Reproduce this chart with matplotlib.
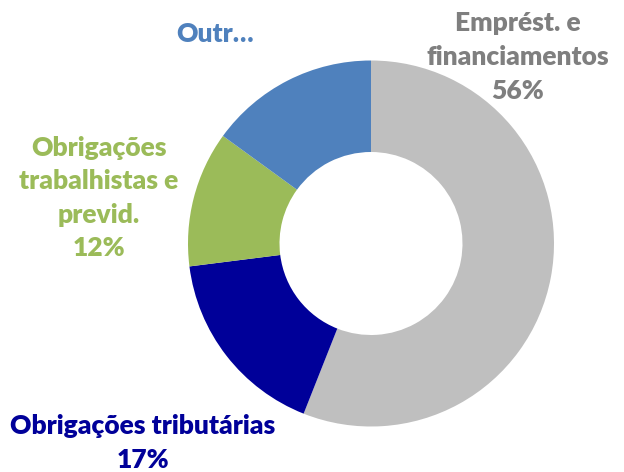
import matplotlib
matplotlib.use("Agg")
import matplotlib.pyplot as plt

categories = ["Emprést. e\nfinanciamentos", "Obrigações tributárias", "Obrigações\ntrabalhistas e\nprevid.", "Outr…"]
values = [56, 17, 12, 15]
pct_labels = ["56%", "17%", "12%", ""]
colors = ["#BFBFBF", "#000099", "#9BBB59", "#4F81BD"]
text_colors = ["#7F7F7F", "#000099", "#9BBB59", "#4F81BD"]

W, H = 624, 472
fig = plt.figure(figsize=(W / 100, H / 100), dpi=100)
ax = fig.add_axes([0, 0, 1, 1])

cx, cy, R = 371, H - 243.5, 183
ax.pie(values, colors=colors, startangle=90, counterclock=False,
       center=(cx, cy), radius=R, frame=True,
       wedgeprops=dict(width=R * 0.5, linewidth=0, edgecolor="none"))
ax.set_xlim(0, W)
ax.set_ylim(0, H)
ax.set_aspect("equal")
ax.axis("off")

label_pos = [(518, H - 57), (143, H - 443), (99, H - 198), (215, H - 34)]
font = dict(family=["Lato", "DejaVu Sans"], fontweight="heavy", fontsize=19)
for cat, pct, (x, y), col in zip(categories, pct_labels, label_pos, text_colors):
    txt = cat + ("\n" + pct if pct else "")
    ax.text(x, y, txt, ha="center", va="center", color=col, linespacing=1.48, **font)

fig.savefig("out.png", dpi=100)
